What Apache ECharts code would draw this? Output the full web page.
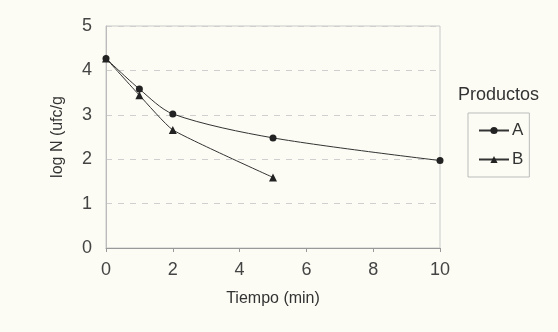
<!DOCTYPE html>
<html><head><meta charset="utf-8">
<script src="https://cdn.jsdelivr.net/npm/echarts@6/dist/echarts.min.js"></script>
<style>html,body{margin:0;padding:0;background:#fcfcf4;}#c{width:558px;height:332px;}</style>
</head><body><div id="c"></div>
<script>
const timeA = [0, 1, 2, 5, 10];
const valuesA = [4.27, 3.58, 3.02, 2.48, 1.97];
const timeB = [0, 1, 2, 5];
const valuesB = [4.27, 3.44, 2.66, 1.59];
const seriesNames = ['A', 'B'];
const xTitle = 'Tiempo (min)';
const yTitle = 'log N (ufc/g';
const legendTitle = 'Productos';

const chart = echarts.init(document.getElementById('c'));
const font = 'Liberation Sans, Arial, sans-serif';
chart.setOption({
  backgroundColor: '#fcfcf4',
  animation: false,
  textStyle: { fontFamily: font },
  grid: { left: 106, right: 118, top: 26, bottom: 84, show: true, borderColor: '#c8c8c8', borderWidth: 1, backgroundColor: 'transparent' },
  xAxis: {
    type: 'value', min: 0, max: 10, interval: 2,
    name: xTitle, nameLocation: 'middle', nameGap: 43,
    nameTextStyle: { fontSize: 16, color: '#333', fontFamily: font },
    axisLine: { lineStyle: { color: '#999', width: 1 } },
    axisTick: { show: true, length: 4, lineStyle: { color: '#999' } },
    axisLabel: { fontSize: 18, color: '#444', margin: 13, fontFamily: font },
    splitLine: { show: false }
  },
  yAxis: {
    type: 'value', min: 0, max: 5, interval: 1,
    name: yTitle, nameLocation: 'middle', nameGap: 40, nameRotate: 90,
    nameTextStyle: { fontSize: 16, color: '#333', fontFamily: font },
    axisLine: { show: true, lineStyle: { color: '#bbb', width: 1 } },
    axisTick: { show: false },
    axisLabel: { fontSize: 18, color: '#444', margin: 14, fontFamily: font },
    splitLine: { show: true, lineStyle: { color: '#cfcfcf', type: [6, 6], width: 1 } }
  },
  legend: {
    data: seriesNames,
    orient: 'vertical',
    left: 468, top: 113,
    width: 61,
    padding: [9, 6, 9, 10],
    itemGap: 12,
    itemWidth: 30, itemHeight: 9,
    borderColor: '#bbb', borderWidth: 1,
    textStyle: { fontSize: 17, color: '#333', fontFamily: font, padding: [0, 0, 0, -2] }
  },
  graphic: [
    { type: 'text', left: 458, top: 86, style: { text: legendTitle, fontSize: 18, fill: '#333', fontFamily: font } }
  ],
  series: [
    {
      name: seriesNames[0], type: 'line', smooth: 0.3,
      data: timeA.map((t, i) => [t, valuesA[i]]),
      symbol: 'circle', symbolSize: 7,
      lineStyle: { color: '#333', width: 1 },
      itemStyle: { color: '#222' }
    },
    {
      name: seriesNames[1], type: 'line', smooth: 0.15,
      data: timeB.map((t, i) => [t, valuesB[i]]),
      symbol: 'triangle', symbolSize: 8,
      lineStyle: { color: '#333', width: 1 },
      itemStyle: { color: '#222' }
    }
  ]
});
</script></body></html>
